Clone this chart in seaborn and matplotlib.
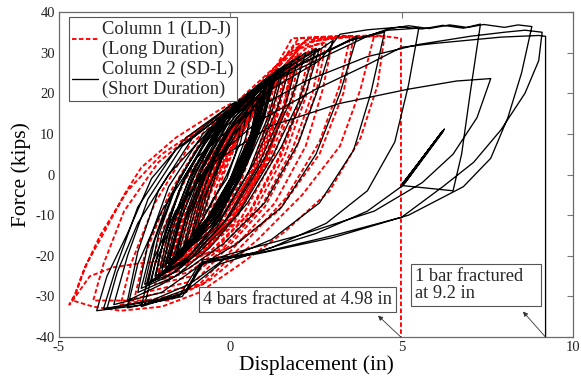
import numpy as np
import pandas as pd
import seaborn as sns
import matplotlib.pyplot as plt

# ---------------------------------------------------------------
# Force-displacement hysteresis, turning points of each cycle
# (displacement in inches, force in kips)
# ---------------------------------------------------------------

# Column 1 (LD-J), long-duration record
col1_cycles = [
    [(-0.5, -8), (-0.2, 0), (0.2, 8), (0.6, 14), (0.4, 6), (0.0, -2), (-0.3, -6)],
    [(-0.7, -12), (-0.4, -3), (0.1, 7), (0.9, 18), (0.6, 8), (0.2, -2), (-0.3, -8)],
    [(-0.9, -15), (-0.6, -5), (0.0, 6), (0.6, 14), (1.1, 21), (0.8, 10), (0.3, -2), (-0.3, -10)],
    [(-1.0, -16), (-0.7, -6), (0.0, 6), (0.7, 15), (1.4, 24), (1.1, 12), (0.6, 0), (-0.1, -9)],
    [(-1.1, -17), (-0.8, -6), (-0.1, 6), (0.6, 15), (1.3, 23), (1.0, 11), (0.5, -1), (-0.2, -11)],
    [(-1.2, -18), (-0.9, -7), (-0.2, 6), (0.6, 16), (1.5, 25), (1.2, 13), (0.6, 0), (-0.1, -11)],
    [(-1.2, -18), (-0.8, -7), (-0.1, 5), (0.8, 17), (2.0, 28), (1.7, 16), (1.1, 3), (0.2, -10), (-0.6, -16)],
    [(-1.3, -19), (-0.9, -8), (-0.2, 5), (0.7, 16), (1.6, 26), (1.3, 14), (0.7, 1), (-0.1, -11), (-0.8, -16)],
    [(-1.4, -20), (-1.0, -8), (-0.3, 5), (0.6, 16), (1.7, 27), (1.4, 15), (0.8, 1), (0.0, -12)],
    [(-1.4, -20), (-1.0, -9), (-0.3, 4), (0.7, 16), (1.8, 27), (1.5, 14), (0.9, 1), (0.1, -11), (-0.7, -17)],
    [(-1.5, -21), (-1.1, -9), (-0.4, 4), (0.6, 17), (1.9, 28), (1.6, 16), (1.0, 2), (0.1, -12), (-0.8, -18)],
    [(-1.6, -21), (-1.2, -9), (-0.4, 4), (0.6, 16), (1.8, 27), (1.5, 15), (0.9, 2), (0.0, -11), (-0.9, -18)],
    [(-1.6, -22), (-1.2, -10), (-0.5, 3), (0.4, 14), (1.3, 23), (1.7, 28), (1.4, 16), (0.9, 4), (0.1, -9), (-0.7, -18)],
    [(-1.7, -22), (-1.3, -10), (-0.5, 4), (0.6, 17), (1.4, 24), (2.1, 29), (1.8, 17), (1.2, 3), (0.3, -11), (-0.8, -19)],
    [(-1.7, -22), (-1.3, -10), (-0.5, 3), (0.5, 15), (1.2, 22), (1.9, 29), (1.6, 17), (1.0, 3), (0.2, -10), (-0.8, -19)],
    [(-1.8, -23), (-1.4, -11), (-0.6, 3), (0.5, 16), (1.5, 25), (2.3, 30), (2.0, 18), (1.4, 4), (0.5, -10), (-0.6, -19), (-1.3, -22)],
    [(-1.8, -24), (-1.4, -12), (-0.7, 2), (0.3, 14), (1.2, 23), (2.0, 31), (1.7, 20), (1.2, 7), (0.4, -7), (-0.5, -17), (-1.2, -22)],
    [(-1.9, -24), (-1.5, -11), (-0.7, 3), (0.5, 16), (1.6, 26), (2.4, 31), (2.1, 19), (1.5, 5), (0.6, -9), (-0.5, -19), (-1.2, -23)],
    [(-2.0, -25), (-1.6, -12), (-0.8, 2), (0.4, 15), (1.5, 25), (2.5, 31), (2.2, 19), (1.6, 5), (0.7, -9), (-0.4, -19), (-1.2, -24)],
    [(-2.1, -26), (-1.7, -13), (-0.9, 1), (0.3, 14), (1.4, 24), (2.2, 31), (2.7, 32.5), (2.4, 20), (1.8, 6), (0.9, -8), (-0.3, -19), (-1.1, -25)],
    [(-2.2, -27), (-1.8, -14), (-1.0, 1), (0.2, 14), (1.4, 24), (2.0, 31), (2.8, 32.5), (2.5, 20), (1.9, 6), (1.0, -8), (-0.2, -19), (-1.0, -26)],
    [(-2.5, -29), (-2.1, -16), (-1.3, -1), (-0.2, 12), (1.0, 22), (1.9, 32), (3.0, 33.5), (2.7, 21), (2.2, 7), (1.3, -7), (0.1, -18), (-0.9, -27)],
    [(-2.8, -30.5), (-2.5, -20), (-1.8, -5), (-0.8, 9), (0.5, 19), (1.7, 29), (2.2, 33), (3.5, 34), (3.2, 22), (2.6, 8), (1.6, -6), (0.4, -17), (-0.8, -27), (-1.8, -30)],
    [(-3.2, -32), (-2.9, -22), (-2.2, -7), (-1.2, 7), (0.2, 18), (1.5, 28), (2.0, 33.5), (3.2, 34), (4.2, 34.2), (3.8, 21), (3.2, 7), (2.1, -5), (0.8, -16), (-0.6, -26), (-1.8, -31)],
    [(-4.0, -31), (-3.7, -22), (-3.1, -9), (-2.1, 3), (-0.8, 12), (0.6, 20), (1.6, 29), (2.3, 33.5), (3.6, 34), (3.3, 20), (2.6, 5), (1.4, -9), (0.0, -18), (-1.5, -21), (-2.6, -21.8), (-3.4, -22.8), (-4.1, -25), (-4.6, -31)],
    [(-4.7, -32), (-4.5, -29), (-4.2, -22), (-3.7, -14.5), (-3.1, -5), (-2.6, 1.7), (-1.6, 9), (-0.3, 16), (0.6, 20), (1.3, 26), (1.8, 33.5), (3.0, 34), (4.0, 34), (4.5, 34.2), (4.3, 22), (3.8, 9), (2.9, -4), (1.6, -14), (0.3, -22), (-0.9, -29), (-2.0, -32.5), (-3.2, -33.5), (-4.0, -32.5), (-4.6, -31)],
    [(-4.3, -24), (-3.8, -15), (-3.0, -4), (-2.0, 5), (-0.6, 13), (0.5, 18), (1.4, 25), (2.0, 31), (2.5, 33), (3.5, 33.8), (4.5, 34), (4.98, 33.5), (4.98, -40)],
]

# Column 2 (SD-L), short-duration record
col2_cycles = [
    [(-0.8, -10), (-0.5, -2), (-0.2, 5), (0.1, 10), (0.3, 12), (0.15, 5), (-0.1, -1), (-0.5, -6)],
    [(-1.0, -14), (-0.7, -5), (-0.3, 4), (0.2, 12), (0.5, 16), (0.3, 8), (-0.1, 0), (-0.6, -8)],
    [(-1.1, -15), (-0.8, -6), (-0.3, 3), (0.3, 12), (0.9, 19), (0.6, 9), (0.0, -2), (-0.6, -10)],
    [(-1.2, -17), (-0.9, -7), (-0.5, 3), (0.1, 13), (0.7, 19), (0.45, 9), (0.0, -1), (-0.6, -10)],
    [(-1.3, -17), (-1.0, -8), (-0.5, 2), (0.2, 12), (1.0, 20), (0.7, 9), (0.1, -3), (-0.6, -12)],
    [(-1.4, -19), (-1.1, -9), (-0.6, 3), (0.1, 14), (0.9, 21), (0.6, 10), (0.1, -2), (-0.6, -12)],
    [(-1.5, -19), (-1.2, -10), (-0.7, 0), (0.0, 11), (0.8, 19), (0.6, 10), (0.0, -1), (-0.7, -11)],
    [(-1.6, -20), (-1.3, -11), (-0.9, -2), (-0.3, 8), (0.5, 17), (1.0, 21), (0.7, 11), (0.2, 0), (-0.5, -10), (-1.1, -16)],
    [(-1.6, -21), (-1.3, -10), (-0.8, 2), (0.0, 14), (1.1, 23), (0.8, 12), (0.2, -2), (-0.6, -13)],
    [(-1.7, -21), (-1.3, -11), (-0.7, 1), (0.1, 13), (1.2, 23), (0.9, 13), (0.3, 1), (-0.5, -11), (-1.2, -18)],
    [(-1.8, -22), (-1.5, -11), (-1.0, 1), (-0.1, 14), (1.3, 25), (1.0, 14), (0.3, -1), (-0.6, -14)],
    [(-1.8, -22), (-1.4, -10), (-0.9, 1), (-0.2, 12), (0.6, 20), (1.5, 26), (1.1, 14), (0.4, 1), (-0.5, -12), (-1.3, -19)],
    [(-1.9, -23), (-1.5, -12), (-0.9, 0), (-0.1, 12), (1.0, 22), (0.7, 12), (0.1, 0), (-0.7, -12), (-1.4, -19)],
    [(-1.9, -22), (-1.6, -13), (-1.2, -3), (-0.6, 7), (0.2, 16), (1.2, 24), (0.9, 15), (0.3, 3), (-0.4, -8), (-1.2, -17)],
    [(-2.0, -23), (-1.6, -11), (-1.0, 2), (-0.1, 14), (1.1, 24), (0.8, 14), (0.2, 0), (-0.6, -12), (-1.4, -20)],
    [(-2.0, -24), (-1.7, -12), (-1.1, 1), (-0.2, 14), (0.8, 22), (1.6, 27), (1.2, 15), (0.5, 0), (-0.4, -13), (-1.2, -20)],
    [(-2.1, -25), (-1.8, -14), (-1.2, -1), (-0.3, 12), (0.9, 22), (1.4, 26), (1.0, 15), (0.4, 2), (-0.4, -12), (-1.3, -21)],
    [(-2.2, -25), (-1.9, -15), (-1.5, -4), (-0.8, 7), (0.2, 17), (1.3, 25), (1.0, 16), (0.3, 2), (-0.6, -11), (-1.4, -20)],
    [(-2.2, -26), (-1.9, -14), (-1.3, 0), (-0.4, 13), (0.7, 21), (2.0, 29), (1.6, 17), (0.8, 2), (-0.2, -12), (-1.2, -21)],
    [(-2.3, -26), (-2.0, -15), (-1.4, -2), (-0.5, 11), (0.6, 20), (1.8, 28), (1.4, 17), (0.7, 3), (-0.3, -11), (-1.3, -21)],
    [(-2.4, -27), (-2.1, -15), (-1.5, -1), (-0.5, 12), (0.8, 21), (2.5, 31), (2.0, 18), (1.2, 4), (0.2, -10), (-0.9, -19), (-1.6, -24)],
    [(-2.5, -27), (-2.2, -16), (-1.6, -3), (-0.7, 10), (0.5, 20), (2.2, 30), (1.8, 19), (1.0, 4), (0.0, -10), (-1.1, -20), (-1.8, -25)],
    [(-2.6, -28), (-2.3, -18), (-1.8, -6), (-1.0, 6), (0.2, 17), (1.6, 26), (2.6, 31), (2.2, 20), (1.5, 7), (0.5, -7), (-0.6, -18), (-1.6, -25)],
    [(-2.7, -29), (-2.4, -17), (-1.8, -3), (-0.8, 10), (0.6, 20), (1.8, 26), (3.0, 33), (2.6, 22), (2.0, 8), (1.0, -7), (-0.2, -17), (-1.2, -23), (-2.0, -27)],
    [(-3.0, -31), (-2.7, -19), (-2.1, -4), (-1.1, 9), (0.3, 18), (2.0, 27), (3.7, 34), (3.2, 20), (2.5, 5), (1.5, -8), (0.2, -17), (-1.0, -23), (-2.0, -29)],
    [(-3.4, -32), (-3.0, -20), (-2.4, -6), (-1.4, 7), (0.1, 17), (2.0, 27), (3.5, 33), (4.5, 35), (4.1, 20), (3.6, 6), (2.6, -7), (1.2, -16), (-0.2, -21), (-1.2, -27), (-2.3, -31)],
    [(-3.7, -33), (-3.3, -22), (-2.7, -8), (-1.6, 6), (0.0, 17), (1.8, 26), (3.5, 33), (4.6, 35.5), (5.5, 36), (5.2, 22), (4.8, 8), (4.0, -4), (2.8, -12), (1.2, -18), (-0.3, -22), (-1.2, -28), (-2.5, -32)],
    [(-3.9, -33.5), (-3.6, -25), (-3.0, -14.5), (-2.3, -1), (-1.3, 9), (0.0, 17), (1.5, 24), (3.0, 30), (4.0, 34), (4.6, 35.8), (5.2, 36.6), (5.8, 35.9), (6.4, 36.8), (6.9, 36.2), (7.3, 37),
     (7.0, 20), (6.75, 5), (6.5, -4), (5.0, -2.7), (6.2, 10.8), (5.05, -2.2), (6.15, 10.2), (4.98, -2.9), (6.25, 11.2), (5.1, -2.0), (6.1, 9.6), (5.0, -2.5), (6.2, 10.4), (5.05, -2.6),
     (4.0, -9), (2.5, -14.5), (0.8, -19), (-0.8, -22), (-1.3, -29), (-2.6, -32.5)],
    [(-2.3, -22), (-1.6, -9), (-0.5, 3), (1.2, 12), (3.2, 17.5), (5.2, 21), (6.6, 23), (7.6, 23.6), (7.2, 14), (6.5, 5), (5.6, -2), (4.2, -9), (2.0, -15), (0.0, -19.5), (-0.9, -22), (-1.5, -30), (-3.6, -33)],
    [(-3.3, -24), (-2.7, -12), (-1.8, 0), (-0.6, 11), (1.2, 21), (2.6, 28), (3.2, 34.5), (4.0, 35.6), (5.0, 36.3), (5.6, 35.8), (6.2, 36.7), (6.8, 36.0), (7.4, 36.9), (8.0, 36.2), (8.4, 36.8), (8.8, 36.4),
     (8.5, 25), (8.1, 14), (7.6, 4), (6.8, -3), (5.2, -10), (3.0, -15.5), (0.8, -19.5), (-0.8, -21.5), (-1.4, -30), (-3.0, -32.8)],
    [(-2.7, -22), (-2.0, -9), (-1.0, 4), (0.5, 15), (2.2, 23), (4.0, 29), (5.5, 32), (7.0, 34), (8.0, 35), (8.6, 35.5), (9.1, 35),
     (9.0, 28), (8.6, 20), (7.9, 11), (7.1, 3), (6.2, -3), (5.0, -10.5), (3.0, -15), (1.0, -19), (-0.8, -21), (-1.3, -29), (-2.5, -32)],
    [(-2.2, -22), (-1.6, -10), (-0.6, 3), (0.8, 13), (2.5, 21), (4.0, 27), (5.0, 31.3), (5.9, 32.2), (7.9, 33.8), (9.0, 34.2), (9.2, 34), (9.2, -40)],
]

col1_label = "Column 1 (LD-J)\n(Long Duration)"
col2_label = "Column 2 (SD-L)\n(Short Duration)"

x_ticks = [-5, 0, 5, 10]
y_ticks = [-40, -30, -20, -10, 0, 10, 20, 30, 40]

note_col1 = "4 bars fractured at 4.98 in"
note_col2 = "1 bar fractured   \nat 9.2 in"


def to_frame(cycles):
    pts = [p for cyc in cycles for p in cyc]
    return pd.DataFrame(pts, columns=["disp", "force"])


df1 = to_frame(col1_cycles)
df2 = to_frame(col2_cycles)

sns.set_theme(style="white")
plt.rcParams["font.family"] = ["Liberation Serif", "DejaVu Serif"]
plt.rcParams["axes.unicode_minus"] = False
plt.rcParams["axes.edgecolor"] = "#6a6a6a"
plt.rcParams["axes.linewidth"] = 0.9

fig = plt.figure(figsize=(5.81, 3.84), dpi=100)
ax = fig.add_axes([0.1015, 0.122, 0.8847, 0.847])

sns.lineplot(data=df1, x="disp", y="force", sort=False, estimator=None,
             color="#ff0000", lw=1.35, linestyle=(0, (2.4, 1.3)), ax=ax,
             label=col1_label, zorder=2)
sns.lineplot(data=df2, x="disp", y="force", sort=False, estimator=None,
             color="black", lw=0.95, ax=ax, label=col2_label, zorder=3)

ax.set_xlim(-5, 10)
ax.set_ylim(-40, 40)
ax.set_xticks(x_ticks)
ax.set_yticks(y_ticks)
ax.tick_params(direction="in", top=True, right=True, length=4, width=0.8,
               color="#7a7a7a", labelsize=10.5, labelcolor="#222222", pad=3)
ax.set_xlabel("Displacement (in)", fontsize=15.5, labelpad=1, color="black")
ax.set_ylabel("Force (kips)", fontsize=15.5, labelpad=3, color="black")

leg = ax.legend(loc="upper left", bbox_to_anchor=(0.019, 0.985),
                borderaxespad=0, fontsize=13.3, frameon=True, fancybox=False,
                edgecolor="#555555", framealpha=1, handlelength=1.4,
                handletextpad=0.2, borderpad=0.2, labelspacing=0.15)
leg.get_frame().set_linewidth(0.8)

box_style = dict(boxstyle="square,pad=0.22", fc="white", ec="#555555", lw=0.8)
ax.text(-0.79, -30.8, note_col1, fontsize=13.2, ha="left", va="center",
        bbox=box_style, zorder=6)
ax.text(5.39, -27.2, note_col2, fontsize=13.2, ha="left", va="center",
        bbox=box_style, zorder=6, linespacing=1.05)

arrow = dict(arrowstyle="-|>", color="#333333", lw=0.6, mutation_scale=7,
             shrinkA=0, shrinkB=0)
ax.annotate("", xy=(4.31, -34.7), xytext=(4.98, -40), arrowprops=arrow, zorder=7)
ax.annotate("", xy=(8.54, -33.7), xytext=(9.2, -40), arrowprops=arrow, zorder=7)

fig.savefig("out.png", dpi=100)
